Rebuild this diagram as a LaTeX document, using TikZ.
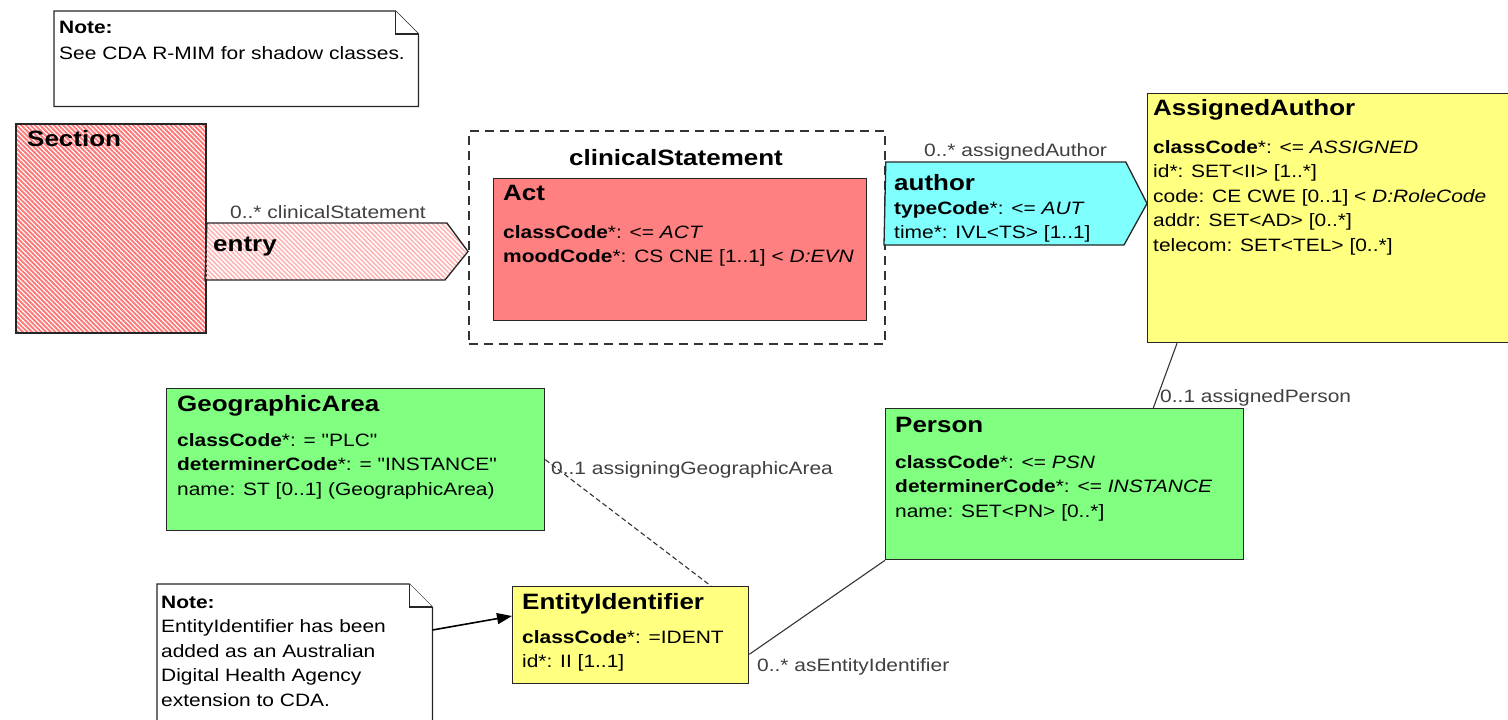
\documentclass[tikz,border=0pt]{standalone}
\usepackage{fontspec}
\setmainfont{Liberation Sans}[FakeStretch=1.17, Ligatures=TeXOff]
\usepackage{tikz}
\usetikzlibrary{positioning, calc, arrows.meta, patterns.meta}

\definecolor{actred}{RGB}{255,128,128}
\definecolor{rolecyan}{RGB}{128,255,255}
\definecolor{roleyellow}{RGB}{255,255,128}
\definecolor{entgreen}{RGB}{128,255,128}
\definecolor{hatchred}{RGB}{255,118,118}
\definecolor{hatchpink}{RGB}{255,178,178}

\newcommand{\bodyfont}{\fontsize{17.9}{24.5}\selectfont}
\newcommand{\titlefont}{\fontsize{22.2}{26}\selectfont\bfseries}
\newcommand{\attrlines}[1]{\vtop{\bodyfont #1}}
\newcommand{\attr}[1]{\hbox{#1}}
\newcommand{\notefold}[1]{%
  \draw[noteline] (#1.north west) -- ($(#1.north east)+(-23,0)$) -- ($(#1.north east)+(0,23)$) -- (#1.south east) -- (#1.south west) -- cycle;
  \draw[noteline] ($(#1.north east)+(-23,0)$) |- ($(#1.north east)+(0,23)$);}

\begin{document}
\begin{tikzpicture}[
        x=1pt, y=-1pt,
        classbox/.style={draw=black!85, line width=1.3pt, anchor=north west, inner sep=0pt},
        notebox/.style={anchor=north west, inner sep=0pt},
        noteline/.style={draw=black!85, line width=1.2pt, fill=white},
        container/.style={draw=black!80, line width=1.8pt, dash pattern=on 9pt off 6pt, anchor=north west, inner sep=0pt},
        title/.style={anchor=base west, inner sep=0pt, font=\titlefont},
        attrs/.style={anchor=base west, inner sep=0pt, font=\bodyfont},
        rolename/.style={anchor=base west, inner sep=0pt, font=\bodyfont, text=black!75},
        shadow_fill/.style={draw=black!85, line width=1.3pt, pattern={Lines[angle=-45, distance=3.3pt, line width=1.9pt]}, pattern color=hatchred},
        entry_fill/.style={draw=black!85, line width=1.3pt, pattern={Lines[angle=-45, distance=3.3pt, line width=1.5pt]}, pattern color=hatchpink},
        author_fill/.style={draw=black!85, line width=1.3pt, fill=rolecyan},
        link/.style={draw=black!80, line width=1.1pt},
        arrow/.style={-{Triangle[length=15pt, width=11pt]}, draw=black, line width=1.6pt}
    ]
        \useasboundingbox (0,0) rectangle (1508,720);

        % --- NOTE (TOP) ---
        \node[notebox, minimum width=364pt, minimum height=95pt] (note_top) at (54,11) {};
        \notefold{note_top}
        \node[attrs, font=\bodyfont\bfseries] (note_top_head) at (59,33) {Note:};
        \node[attrs] (note_top_text) at (59,59) {See CDA R-MIM for shadow classes.};

        % --- SECTION (SHADOW) ---
        \node[classbox, shadow_fill, minimum width=190pt, minimum height=209pt] (section) at (15,123) {};
        \node[title] (section_title) at (27,146) {Section};

        % --- CLINICAL STATEMENT CHOICE ---
        \node[container, minimum width=416pt, minimum height=213pt] (cs) at (468,130) {};
        \node[anchor=base, inner sep=0pt, font=\titlefont] (cs_title) at (676,165) {clinicalStatement};
        \node[classbox, fill=actred, minimum width=373pt, minimum height=142pt] (act) at (493,178) {};
        \node[title] (act_title) at (503,200) {Act};
        \node[attrs] (act_attrs) at (503,238) {\attrlines{%
            \attr{\textbf{classCode}*: <= \textit{ACT}}
            \attr{\textbf{moodCode}*: CS CNE [1..1] < \textit{D:EVN}}}};

        % --- ENTRY (SHADOW ASSOCIATION) ---
        \filldraw[entry_fill] ($(section.north east)+(0,100)$) -- ++(240,0) -- ($(cs.north west)+(0,121.5)$) -- ++(-23,28.5) -- ++(-240,0) -- cycle;
        \node[rolename] (entry_role) at (230,218) {0..* clinicalStatement};
        \node[title] (entry_title) at (213,251) {entry};

        % --- ASSIGNED AUTHOR ---
        \node[classbox, fill=roleyellow, minimum width=365pt, minimum height=249pt] (assigned) at (1147,93) {};
        \node[title] (assigned_title) at (1153,115) {AssignedAuthor};
        \node[attrs] (assigned_attrs) at (1153,153) {\attrlines{%
            \attr{\textbf{classCode}*: <= \textit{ASSIGNED}}
            \attr{id*: SET<II> [1..*]}
            \attr{code: CE CWE [0..1] < \textit{D:RoleCode}}
            \attr{addr: SET<AD> [0..*]}
            \attr{telecom: SET<TEL> [0..*]}}};

        % --- AUTHOR PARTICIPATION ---
        \filldraw[author_fill] ($(cs.north east)+(0,32)$) -- ++(240,0) -- ($(assigned.north west)+(0,110.5)$) -- ++(-23,41.5) -- ++(-240,0) -- cycle;
        \node[rolename] (author_role) at (924,156) {0..* assignedAuthor};
        \node[title] (author_title) at (894,190) {author};
        \node[attrs] (author_attrs) at (894,214) {\attrlines{%
            \attr{\textbf{typeCode}*: <= \textit{AUT}}
            \attr{time*: IVL<TS> [1..1]}}};

        % --- PERSON ---
        \node[classbox, fill=entgreen, minimum width=358pt, minimum height=151pt] (person) at (885,408) {};
        \node[title] (person_title) at (895,432) {Person};
        \node[attrs] (person_attrs) at (895,468) {\attrlines{%
            \attr{\textbf{classCode}*: <= \textit{PSN}}
            \attr{\textbf{determinerCode}*: <= \textit{INSTANCE}}
            \attr{name: SET<PN> [0..*]}}};

        % --- GEOGRAPHIC AREA ---
        \node[classbox, fill=entgreen, minimum width=378pt, minimum height=142pt] (geo) at (166,388) {};
        \node[title] (geo_title) at (177,411) {GeographicArea};
        \node[attrs] (geo_attrs) at (177,446) {\attrlines{%
            \attr{\textbf{classCode}*: = "PLC"}
            \attr{\textbf{determinerCode}*: = "INSTANCE"}
            \attr{name: ST [0..1] (GeographicArea)}}};

        % --- ENTITY IDENTIFIER ---
        \node[classbox, fill=roleyellow, minimum width=236pt, minimum height=97pt] (entid) at (512,586) {};
        \node[title] (entid_title) at (522,609) {EntityIdentifier};
        \node[attrs] (entid_attrs) at (522,643) {\attrlines{%
            \attr{\textbf{classCode}*: =IDENT}
            \attr{id*: II [1..1]}}};

        % --- NOTE (BOTTOM) ---
        \node[notebox, minimum width=275pt, minimum height=141pt] (note_bottom) at (157,584) {};
        \notefold{note_bottom}
        \node[attrs] (note_bottom_text) at (161,608) {\attrlines{%
            \attr{\textbf{Note:}}
            \attr{EntityIdentifier has been}
            \attr{added as an Australian}
            \attr{Digital Health Agency}
            \attr{extension to CDA.}}};

        % --- ASSOCIATIONS ---
        \draw[link] ($(assigned.south west)+(30,0)$) -- ($(person.north east)+(-91,0)$);
        \node[rolename] (person_role) at (1160,402) {0..1 assignedPerson};

        \draw[link, dash pattern=on 5pt off 3pt] (geo.east) -- ($(entid.north west)+(199,0)$);
        \node[rolename] (geo_role) at (551,474) {0..1 assigningGeographicArea};

        \draw[link] ($(entid.south east)+(0,-30)$) -- (person.south west);
        \node[rolename] (entid_role) at (757,671) {0..* asEntityIdentifier};

        \draw[arrow] ($(note_bottom.north east)+(0,46)$) -- ($(entid.north west)+(0,30)$);

    \end{tikzpicture}
\end{document}
